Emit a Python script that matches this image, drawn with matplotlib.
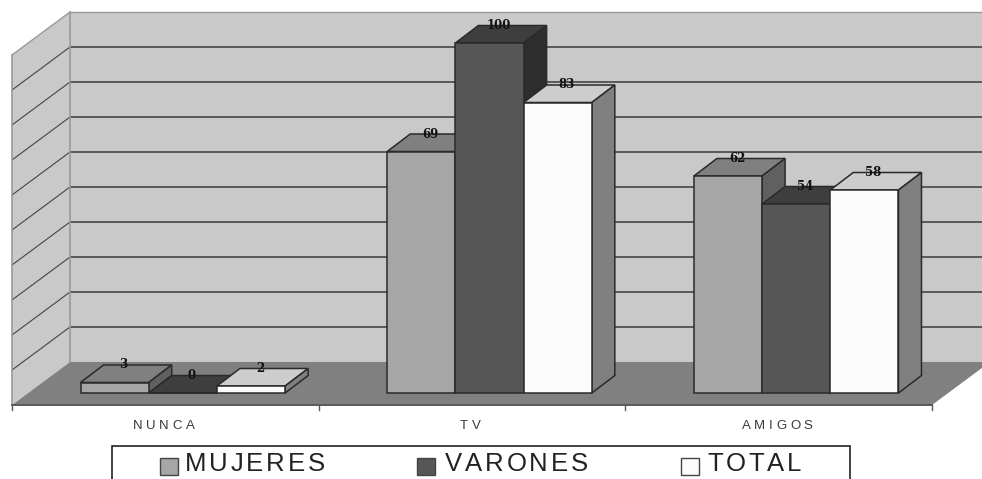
import matplotlib
matplotlib.use("Agg")
import matplotlib.pyplot as plt
from matplotlib.patches import Polygon, Rectangle
from matplotlib.text import Text

categories = ["NUNCA", "TV", "AMIGOS"]
series_names = ["MUJERES", "VARONES", "TOTAL"]
mujeres = [3, 69, 62]
varones = [0, 100, 54]
total = [2, 83, 58]
series_values = [mujeres, varones, total]
grid_values = [10, 20, 30, 40, 50, 60, 70, 80, 90, 100]

# (front, top, side) shades per series
shades = [("#a6a6a6", "#808080", "#606060"),
          ("#565656", "#3e3e3e", "#2e2e2e"),
          ("#fcfcfc", "#cdcdcd", "#808080")]
EDGE = "#2a2a2a"
WALL = "#c9c9c9"
FLOOR = "#808080"
FRAME = "#999999"

W, H = 982, 479
PX_CAT = 306.67   # pixels per category
PX_VAL = 3.5      # pixels per value unit
X0, Y0 = 12, 393  # pixel of category origin / value zero


class TrackedText(Text):
    """Text drawn with extra space between its letters."""

    def __init__(self, *args, tracking=0, **kwargs):
        super().__init__(*args, **kwargs)
        self._tracking = tracking

    def draw(self, renderer):
        full = self.get_text()
        x, y = self.get_position()
        ha = self.get_ha()
        fp = self.get_fontproperties()
        widths = [renderer.get_text_width_height_descent(c, fp, False)[0] for c in full]
        span = sum(widths) + self._tracking * (len(full) - 1)
        tr = self.get_transform()
        px, py = tr.transform((x, y))
        cursor = px - span / 2 if ha == "center" else px
        inv = tr.inverted()
        self.set_ha("left")
        for c, w in zip(full, widths):
            self._text = c
            self.set_x(inv.transform((cursor, py))[0])
            super().draw(renderer)
            cursor += w + self._tracking
        self._text = full
        self.set_x(x)
        self.set_ha(ha)


def tracked(axes, x, y, s, tracking, **kw):
    t = TrackedText(x, y, s, tracking=tracking, transform=axes.transData,
                    family="Liberation Sans", va="baseline", **kw)
    axes.add_artist(t)
    return t


fig = plt.figure(figsize=(W / 100, H / 100), dpi=100, facecolor="white")
ax = fig.add_axes([0, 0, 1, 1])
ax.set_xlim(-X0 / PX_CAT, (W - X0) / PX_CAT)
ax.set_ylim((Y0 - H) / PX_VAL, Y0 / PX_VAL)
ax.axis("off")

# depth vectors in data units
BAR_DX, BAR_DY = 23 / PX_CAT, 17.5 / PX_VAL
ROOM_DX, ROOM_DY = 58 / PX_CAT, 43 / PX_VAL
FLOOR_FRONT = (Y0 - 405) / PX_VAL
WALL_BASE = FLOOR_FRONT + ROOM_DY
N = len(categories)
RIGHT = float(N)
TOP = max(grid_values)


def poly(points, face, edge="none", lw=0.0, z=1):
    ax.add_patch(Polygon(points, closed=True, facecolor=face, edgecolor=edge,
                         linewidth=lw, zorder=z, joinstyle="miter"))


# back wall, side wall, floor
poly([(ROOM_DX, WALL_BASE), (RIGHT + ROOM_DX, WALL_BASE),
      (RIGHT + ROOM_DX, WALL_BASE + TOP), (ROOM_DX, WALL_BASE + TOP)], WALL, z=1)
poly([(0, FLOOR_FRONT), (ROOM_DX, WALL_BASE), (ROOM_DX, WALL_BASE + TOP), (0, FLOOR_FRONT + TOP)], WALL, z=1)
poly([(0, FLOOR_FRONT), (RIGHT, FLOOR_FRONT), (RIGHT + ROOM_DX, WALL_BASE), (ROOM_DX, WALL_BASE)], FLOOR, z=2)

# gridlines on both walls
for v in grid_values:
    col = FRAME if v == TOP else "#505050"
    lw_back = 1.0 if v == TOP else 1.3
    ax.plot([ROOM_DX, RIGHT + ROOM_DX], [WALL_BASE + v] * 2, color=col, lw=lw_back, zorder=3,
            solid_capstyle="butt")
    if v != TOP:
        ax.plot([0, ROOM_DX], [FLOOR_FRONT + v, WALL_BASE + v], color="#444444", lw=0.8, zorder=3)
ax.plot([0, ROOM_DX], [FLOOR_FRONT + TOP, WALL_BASE + TOP], color=FRAME, lw=1.0, zorder=3)
ax.plot([0, 0], [FLOOR_FRONT, FLOOR_FRONT + TOP], color=FRAME, lw=1.2, zorder=3)
ax.plot([ROOM_DX, ROOM_DX], [WALL_BASE, WALL_BASE + TOP], color=FRAME, lw=1.2, zorder=3)

# front floor edge with category ticks
ax.plot([0, RIGHT], [FLOOR_FRONT] * 2, color="#5a5a5a", lw=1.4, zorder=4)
TICK = 5 / PX_VAL
for i in range(N + 1):
    ax.plot([i, i], [FLOOR_FRONT, FLOOR_FRONT - TICK], color="#5a5a5a", lw=1.0, zorder=4)

# bars
BAR_W = 68.2 / PX_CAT
BAR_START = 0.2235
z = 10
for c in range(N):
    for s, vals in enumerate(series_values):
        v = vals[c]
        x0 = c + BAR_START + s * BAR_W
        x1 = x0 + BAR_W
        front, top, side = shades[s]
        poly([(x0, v), (x1, v), (x1 + BAR_DX, v + BAR_DY), (x0 + BAR_DX, v + BAR_DY)], top, EDGE, 1.1, z)
        poly([(x1, 0), (x1 + BAR_DX, BAR_DY), (x1 + BAR_DX, v + BAR_DY), (x1, v)], side, EDGE, 1.1, z)
        poly([(x0, 0), (x1, 0), (x1, v), (x0, v)], front, EDGE, 1.1, z)
        z += 1

# value labels
for c in range(N):
    for s, vals in enumerate(series_values):
        v = vals[c]
        xc = c + BAR_START + (s + 0.5) * BAR_W + 9 / PX_CAT
        ax.text(xc, v + BAR_DY, str(v), ha="center", va="center", family="DejaVu Serif",
                weight="bold", fontsize=8.5, color="#111111", zorder=40)

# category labels
LABEL_Y = (Y0 - 429) / PX_VAL
for c, name in enumerate(categories):
    tracked(ax, c + 0.5 - 0.005, LABEL_Y, name, 3.6, ha="center", fontsize=9.5, color="#3a3a3a", zorder=40)

# legend box, open at the bottom of the picture
def px_x(p):
    return (p - X0) / PX_CAT


def px_y(p):
    return (Y0 - p) / PX_VAL


ax.plot([px_x(112), px_x(112), px_x(850), px_x(850)],
        [px_y(H), px_y(445.5), px_y(445.5), px_y(H)], color="#222222", lw=1.2, zorder=30,
        solid_joinstyle="miter")
swatch_left = [159.5, 417, 681]
text_left = [185, 445, 707]
for name, sx, tx, sh in zip(series_names, swatch_left, text_left, shades):
    ax.add_patch(Rectangle((px_x(sx), px_y(474.5)), 18 / PX_CAT, 17 / PX_VAL, facecolor=sh[0],
                           edgecolor="#444444", linewidth=1.0, zorder=31))
    tracked(ax, px_x(tx), px_y(471), name, 2.8, ha="left", fontsize=18.5, color="#222222", zorder=31)

fig.savefig("out.png", dpi=100, facecolor="white")
